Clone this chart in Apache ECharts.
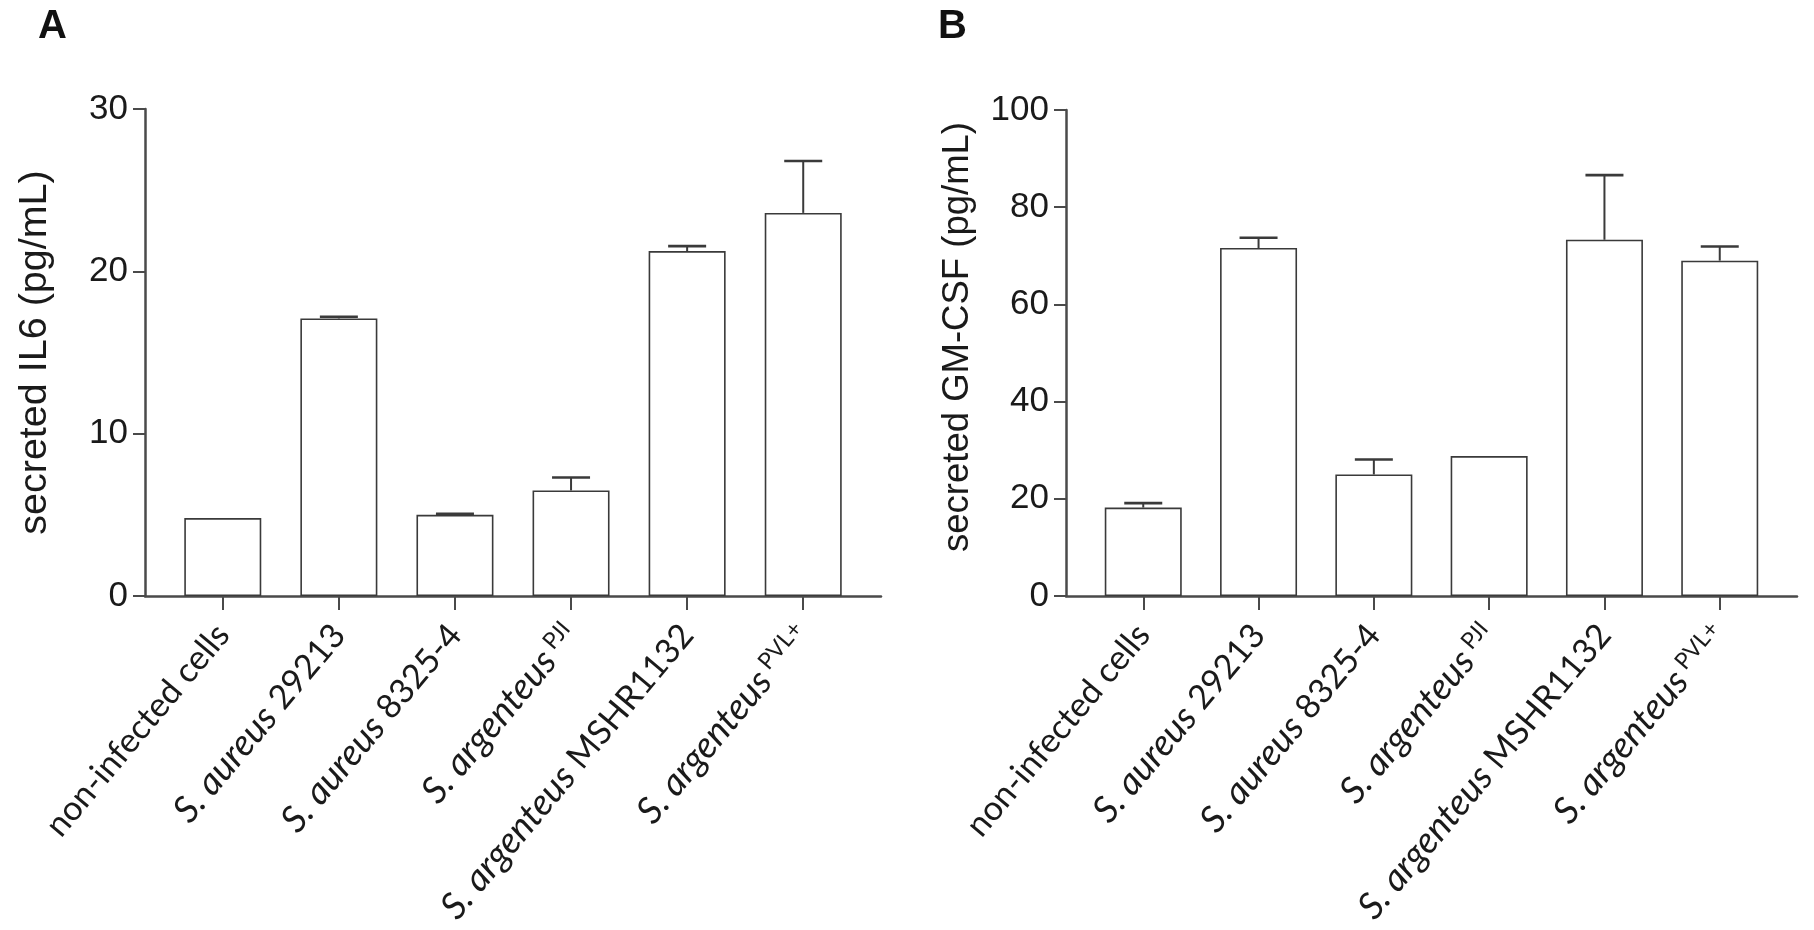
<!DOCTYPE html>
<html><head><meta charset="utf-8">
<script src="https://cdn.jsdelivr.net/npm/echarts@6/dist/echarts.min.js"></script>
<style>html,body{margin:0;padding:0;background:#fff}#c{width:1814px;height:930px}</style>
</head><body><div id="c"></div>
<script>
// categories: [italic species part, normal strain part, superscript part]
const categories = [
  ['', 'non-infected cells', ''],
  ['S. aureus', '29213', ''],
  ['S. aureus', '8325-4', ''],
  ['S. argenteus', '', 'PJI'],
  ['S. argenteus', 'MSHR1132', ''],
  ['S. argenteus', '', 'PVL+']
];
const il6Mean = [4.8, 17.1, 5.0, 6.5, 21.25, 23.6];
const il6Err = [0, 0.1, 0.07, 0.8, 0.3, 3.2];
const gmcsfMean = [18.2, 71.6, 25.0, 28.8, 73.3, 69.0];
const gmcsfErr = [0.9, 2.1, 3.1, 0, 13.3, 2.9];
const il6Ticks = [0, 10, 20, 30];
const gmcsfTicks = [0, 20, 40, 60, 80, 100];
const panelLetters = ['A', 'B'];
const yTitles = ['secreted IL6 (pg/mL)', 'secreted GM-CSF (pg/mL)'];

const idx = categories.map((c, i) => i);
const AX = '#4a4a4a';
const TXT = '#1a1a1a';

function labelFmt(v) {
  const c = categories[Math.round(v)];
  if (!c) return '';
  let s = '';
  if (c[0]) s += '{i|' + c[0] + '}';
  if (c[1]) s += (c[0] ? '{n| ' : '{n|') + c[1] + '}';
  if (c[2]) s += '{s| ' + c[2] + '}';
  return s;
}

function xAxisDef(gi) {
  return {
    type: 'value', gridIndex: gi, min: -0.67, max: 5.67,
    splitLine: { show: false },
    axisLine: { show: true, onZero: false, lineStyle: { color: AX, width: 2.5 } },
    axisTick: { show: true, customValues: idx, length: 14, lineStyle: { color: AX, width: 2 } },
    axisLabel: {
      customValues: idx, rotate: 50, margin: 33, formatter: labelFmt,
      rich: {
        i: { fontFamily: 'Lato', fontStyle: 'italic', fontSize: 37, color: TXT },
        n: { fontFamily: 'Lato', fontSize: 34, color: TXT },
        s: { fontFamily: 'Lato', fontSize: 23, color: TXT, verticalAlign: 'top' }
      }
    }
  };
}

function yAxisDef(gi, ticks, title, pad) {
  return {
    type: 'value', gridIndex: gi, min: ticks[0], max: ticks[ticks.length - 1],
    interval: ticks[1] - ticks[0],
    splitLine: { show: false },
    axisLine: { show: true, onZero: false, lineStyle: { color: AX, width: 2.5 } },
    axisTick: { show: true, length: 12, lineStyle: { color: AX, width: 2 } },
    axisLabel: { fontFamily: 'Liberation Sans', fontSize: 35, color: TXT, margin: 17 },
    name: title, nameLocation: 'middle', nameGap: 90,
    nameTextStyle: { fontFamily: 'Liberation Sans', fontSize: gi === 0 ? 39.5 : 36.5, color: TXT, padding: pad }
  };
}

function barSeries(gi, means) {
  return {
    type: 'bar', xAxisIndex: gi, yAxisIndex: gi, barWidth: 77,
    data: means.map((m, i) => [i, m]),
    itemStyle: { color: '#ffffff', borderColor: '#3a3a3a', borderWidth: 1.6 },
    silent: true, z: 2
  };
}

function errSeries(gi, means, errs) {
  return {
    type: 'custom', xAxisIndex: gi, yAxisIndex: gi, z: 3, silent: true,
    data: means.map((m, i) => [i, m, m + errs[i], errs[i]]),
    renderItem: function (params, api) {
      const e = api.value(3);
      if (!e) return null;
      const x = api.value(0);
      const p0 = api.coord([x, api.value(1)]);
      const p1 = api.coord([x, api.value(2)]);
      const hw = 19;
      return {
        type: 'group', children: [
          { type: 'line', shape: { x1: p0[0], y1: p0[1], x2: p1[0], y2: p1[1] }, style: { stroke: '#3a3a3a', lineWidth: 2 } },
          { type: 'line', shape: { x1: p1[0] - hw, y1: p1[1], x2: p1[0] + hw, y2: p1[1] }, style: { stroke: '#3a3a3a', lineWidth: 2.6 } }
        ]
      };
    }
  };
}

const chart = echarts.init(document.getElementById('c'), null, { renderer: 'canvas' });
chart.setOption({
  backgroundColor: '#ffffff',
  animation: false,
  title: [
    { text: panelLetters[0], left: 38, top: 7, padding: 0, textStyle: { fontFamily: 'Liberation Sans', fontWeight: 'bold', fontSize: 40, color: '#111' } },
    { text: panelLetters[1], left: 938, top: 7, padding: 0, textStyle: { fontFamily: 'Liberation Sans', fontWeight: 'bold', fontSize: 40, color: '#111' } }
  ],
  grid: [
    { left: 145, top: 109, width: 736, height: 487, containLabel: false, outerBoundsMode: 'none' },
    { left: 1066, top: 110, width: 731, height: 486, containLabel: false, outerBoundsMode: 'none' }
  ],
  xAxis: [xAxisDef(0), xAxisDef(1)],
  yAxis: [yAxisDef(0, il6Ticks, yTitles[0], 0), yAxisDef(1, gmcsfTicks, yTitles[1], [0, 0, 0, 32])],
  series: [
    barSeries(0, il6Mean), errSeries(0, il6Mean, il6Err),
    barSeries(1, gmcsfMean), errSeries(1, gmcsfMean, gmcsfErr)
  ]
});
</script>
</body></html>
